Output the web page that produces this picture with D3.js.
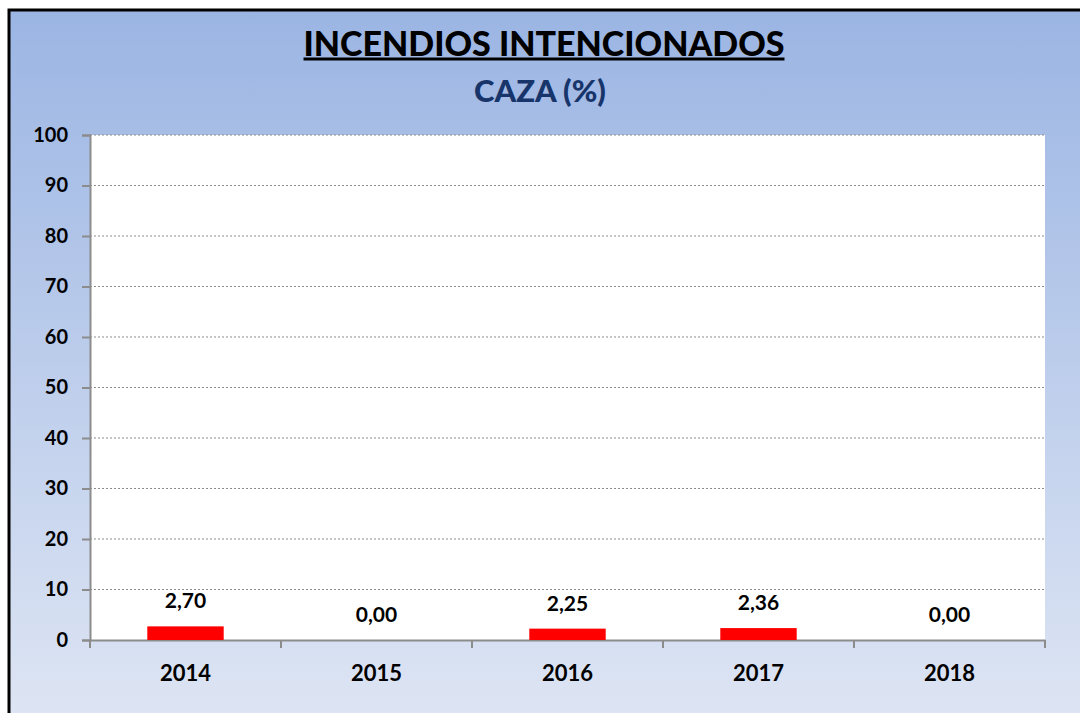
<!DOCTYPE html>
<html>
<head>
<meta charset="utf-8">
<script src="https://cdn.jsdelivr.net/npm/d3@7"></script>
<style>
  body { margin: 0; background: #fff; }
  svg { display: block; }
  svg text { font-family: Lato, "Open Sans", sans-serif; }
</style>
</head>
<body>
<div id="chart"></div>
<script>
// datos del gráfico
const years = ['2014', '2015', '2016', '2017', '2018'];
const values = [2.70, 0.00, 2.25, 2.36, 0.00];
const yTicks = [0, 10, 20, 30, 40, 50, 60, 70, 80, 90, 100];

const width = 1080, height = 713;
const plot = { left: 90, right: 1045, top: 135, bottom: 640 };

const svg = d3.select('#chart')
    .append('svg')
    .attr('width', width)
    .attr('height', height);

// fondo degradado
const grad = svg.append('defs').append('linearGradient')
    .attr('id', 'bg')
    .attr('x1', 0).attr('y1', 0).attr('x2', 0).attr('y2', 1);
grad.append('stop').attr('offset', '0%').attr('stop-color', '#9bb5e3');
grad.append('stop').attr('offset', '100%').attr('stop-color', '#dfe6f4');

svg.append('rect')
    .attr('x', 9).attr('y', 10)
    .attr('width', width + 10).attr('height', height + 10)
    .style('fill', 'url(#bg)')
    .style('stroke', '#000')
    .style('stroke-width', 3);

// área de trazado
svg.append('rect')
    .attr('x', plot.left).attr('y', plot.top)
    .attr('width', plot.right - plot.left)
    .attr('height', plot.bottom - plot.top)
    .style('fill', '#fff');

const x = d3.scaleBand()
    .domain(years)
    .range([plot.left, plot.right])
    .paddingInner(0.6)
    .paddingOuter(0.3);

const xTick = d3.scaleBand()
    .domain(years)
    .range([plot.left, plot.right]);

const y = d3.scaleLinear()
    .domain([0, 100])
    .range([plot.bottom, plot.top]);

// líneas de división
svg.append('g')
    .selectAll('line')
    .data(yTicks.filter(d => d > 0))
    .join('line')
    .attr('x1', plot.left).attr('x2', plot.right)
    .attr('y1', d => y(d)).attr('y2', d => y(d))
    .style('stroke', '#8c8c8c')
    .style('stroke-width', 1.2)
    .style('stroke-dasharray', '2,2');

// eje Y
const yAxis = svg.append('g')
    .attr('transform', `translate(${plot.left},0)`)
    .call(d3.axisLeft(y).tickValues(yTicks).tickSize(8).tickPadding(14));
yAxis.attr('font-family', null);
yAxis.select('.domain').style('stroke', '#8c8c8c').style('stroke-width', 2);
yAxis.selectAll('.tick line').style('stroke', '#8c8c8c').style('stroke-width', 2);
yAxis.selectAll('.tick text')
    .style('font-size', '20px')
    .style('font-weight', 'bold')
    .style('fill', '#000');

// eje X
const xAxis = svg.append('g')
    .attr('transform', `translate(0,${plot.bottom})`)
    .call(d3.axisBottom(xTick).tickSizeOuter(0).tickSize(0).tickPadding(25));
xAxis.attr('font-family', null);
xAxis.select('.domain').style('stroke', '#8c8c8c').style('stroke-width', 2);
xAxis.selectAll('.tick text')
    .style('font-size', '22px')
    .style('font-weight', 'bold')
    .style('fill', '#000');

// marcas entre categorías
svg.append('g')
    .selectAll('line')
    .data(years.map(d => xTick(d)).concat([plot.right]))
    .join('line')
    .attr('x1', d => d).attr('x2', d => d)
    .attr('y1', plot.bottom).attr('y2', plot.bottom + 8)
    .style('stroke', '#8c8c8c')
    .style('stroke-width', 2);

// barras
svg.append('g')
    .selectAll('rect')
    .data(values)
    .join('rect')
    .attr('x', (d, i) => x(years[i]))
    .attr('y', d => y(d))
    .attr('width', x.bandwidth())
    .attr('height', d => y(0) - y(d))
    .style('fill', '#ff0000');

// etiquetas de datos
svg.append('g')
    .selectAll('text')
    .data(values)
    .join('text')
    .attr('x', (d, i) => x(years[i]) + x.bandwidth() / 2)
    .attr('y', d => y(d) - 18)
    .style('text-anchor', 'middle')
    .style('font-size', '21px')
    .style('font-weight', 'bold')
    .text(d => d.toFixed(2).replace('.', ','));

// títulos
const title = svg.append('text')
    .attr('x', 544).attr('y', 56)
    .style('text-anchor', 'middle')
    .style('font-size', '34px')
    .style('font-weight', 900)
    .style('fill', '#000')
    .text('INCENDIOS INTENCIONADOS');

const tb = title.node().getBBox();
svg.append('line')
    .attr('x1', tb.x).attr('x2', tb.x + tb.width)
    .attr('y1', 59).attr('y2', 59)
    .style('stroke', '#000')
    .style('stroke-width', 3);

svg.append('text')
    .attr('x', 540).attr('y', 102)
    .style('text-anchor', 'middle')
    .style('font-size', '31px')
    .style('font-weight', 900)
    .style('fill', '#17356a')
    .text('CAZA (%)');
</script>
</body>
</html>
